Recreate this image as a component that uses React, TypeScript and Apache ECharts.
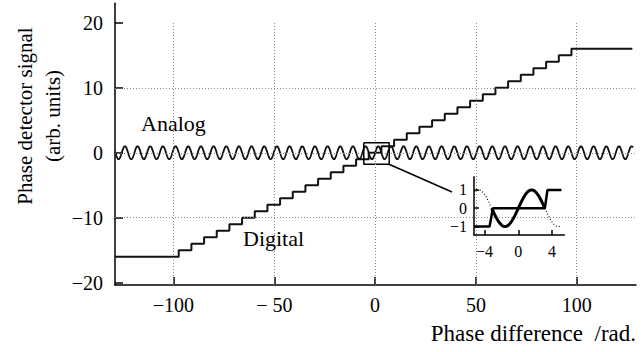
import React, { useEffect, useRef } from "react";
import * as echarts from "echarts";

const FONT = '"Liberation Serif", "Times New Roman", serif';

// main axes
const X_MIN = -129;
const X_MAX = 129.4;
const Y_MIN = -20.35;
const Y_MAX = 23;
const X_TICKS = [-100, -50, 0, 50, 100];
const Y_TICKS = [-20, -10, 0, 10, 20];
const X_GRID = [-100, -50, 0, 50, 100];
const Y_GRID = [-10, 0, 10];

// analog signal: amplitude and period
const ANALOG_AMPLITUDE = 1;
const ANALOG_PERIOD = 6.283;
const ANALOG_RANGE = [-129, 128];

// digital staircase: edges of each step, and the level between them
const STEP_EDGES = [
  -97.39, -91.11, -84.82, -78.54, -72.26, -65.97, -59.69, -53.41, -47.12, -40.84, -34.56, -28.27, -21.99, -15.71, -9.42, -3.14,
  3.14, 9.42, 15.71, 21.99, 28.27, 34.56, 40.84, 47.12, 53.41, 59.69, 65.97, 72.26, 78.54, 84.82, 91.11, 97.39,
];
const DIGITAL_LEVELS = [
  -16, -15, -14, -13, -12, -11, -10, -9, -8, -7, -6, -5, -4, -3, -2, -1, 0,
  1, 2, 3, 4, 5, 6, 7, 8, 9, 10, 11, 12, 13, 14, 15, 16,
];
const DIGITAL_RANGE = [-129, 127.6];

// magnifier box around origin
const BOX = [[-5.6, 1.55], [7.0, 1.55], [7.0, -1.75], [-5.6, -1.75], [-5.6, 1.55]];

// inset
const INSET_X_MIN = -5.24;
const INSET_X_MAX = 5.44;
const INSET_Y_MIN = -1.46;
const INSET_Y_MAX = 1.72;
const INSET_X_TICKS = [-4, 0, 4];
const INSET_Y_TICKS = [-1, 0, 1];
const INSET_RANGE = [-5.2, 5.1];
const INSET_DIGITAL = [[-5.24, -1], [-3.4, -1], [-3.0, 0], [3.14, 0], [3.45, 1], [5.1, 1]];

function minus(v: number, spaced = false) {
  if (v < 0) return "\u2212" + (spaced ? " " : "") + Math.abs(v);
  return String(v);
}

function sineRange(a: number, b: number, step: number) {
  const pts: number[][] = [];
  for (let x = a; x <= b + 1e-9; x += step) {
    pts.push([x, ANALOG_AMPLITUDE * Math.sin((2 * Math.PI * x) / ANALOG_PERIOD)]);
  }
  return pts;
}

function buildDigital() {
  const pts: number[][] = [];
  let start = DIGITAL_RANGE[0];
  DIGITAL_LEVELS.forEach((lvl, i) => {
    const end = i < STEP_EDGES.length ? STEP_EDGES[i] : DIGITAL_RANGE[1];
    pts.push([start, lvl]);
    pts.push([end, lvl]);
    start = end;
  });
  return pts;
}

export default function App() {
  const ref = useRef<HTMLDivElement>(null);
  useEffect(() => {
    if (!ref.current) return;
    const chart = echarts.init(ref.current, undefined, { renderer: "svg" });

    const gridLine = { color: "#888", width: 1, type: [1, 2] as any };
    const gridData: any[] = [];
    X_GRID.forEach((x) => gridData.push([{ coord: [x, Y_MIN] }, { coord: [x, 20] }]));
    Y_GRID.forEach((y) => gridData.push([{ coord: [X_MIN, y] }, { coord: [X_MAX, y] }]));

    const axisLabelMain = { fontFamily: FONT, fontSize: 20, color: "#000" };
    const textFont = (size: number) => `${size}px ${FONT}`;

    chart.setOption({
      animation: false,
      backgroundColor: "#fff",
      grid: [
        { left: 115, right: 7, top: 3.3, bottom: 67 },
        { left: 474, right: 78.7, top: 176.7, bottom: 117, z: 10 },
      ],
      xAxis: [
        {
          type: "value",
          gridIndex: 0,
          min: X_MIN,
          max: X_MAX,
          axisLine: { show: true, onZero: false, lineStyle: { color: "#000", width: 1.5 } },
          axisTick: { show: true, inside: true, length: 8, lineStyle: { color: "#000", width: 1.5 }, customValues: X_TICKS },
          axisLabel: { ...axisLabelMain, margin: 10, customValues: X_TICKS, formatter: (v: number) => minus(v, v === -50) },
          splitLine: { show: false },
        },
        {
          type: "value",
          gridIndex: 1,
          min: INSET_X_MIN,
          max: INSET_X_MAX,
          z: 10,
          axisLine: { show: true, onZero: false, lineStyle: { color: "#000", width: 1.5 } },
          axisTick: { show: true, inside: true, length: 5, lineStyle: { color: "#000", width: 1.5 }, customValues: INSET_X_TICKS },
          axisLabel: { fontFamily: FONT, fontSize: 16, color: "#000", margin: 8, customValues: INSET_X_TICKS, formatter: (v: number) => minus(v) },
          splitLine: { show: false },
        },
      ],
      yAxis: [
        {
          type: "value",
          gridIndex: 0,
          min: Y_MIN,
          max: Y_MAX,
          axisLine: { show: true, onZero: false, lineStyle: { color: "#000", width: 1.5 } },
          axisTick: { show: true, inside: true, length: 8, lineStyle: { color: "#000", width: 1.5 }, customValues: Y_TICKS },
          axisLabel: { ...axisLabelMain, margin: 12, customValues: Y_TICKS, formatter: (v: number) => minus(v) },
          splitLine: { show: false },
        },
        {
          type: "value",
          gridIndex: 1,
          min: INSET_Y_MIN,
          max: INSET_Y_MAX,
          z: 10,
          axisLine: { show: true, onZero: false, lineStyle: { color: "#000", width: 1.5 } },
          axisTick: { show: true, inside: true, length: 5, lineStyle: { color: "#000", width: 1.5 }, customValues: INSET_Y_TICKS },
          axisLabel: { fontFamily: FONT, fontSize: 16, color: "#000", margin: 7, customValues: INSET_Y_TICKS, formatter: (v: number) => minus(v) },
          splitLine: { show: false },
        },
      ],
      graphic: [
        { type: "rect", z: 5, shape: { x: 402, y: 165, width: 185, height: 110 }, style: { fill: "#fff" } },
        { type: "line", z: 6, shape: { x1: 389, y1: 164.3, x2: 452, y2: 192 }, style: { stroke: "#000", lineWidth: 1.5 } },
        { type: "text", z: 6, x: 141, y: 123, style: { text: "Analog", font: textFont(22), fill: "#000", textAlign: "left", textVerticalAlign: "middle" } },
        { type: "text", z: 6, x: 243, y: 238, style: { text: "Digital", font: textFont(22), fill: "#000", textAlign: "left", textVerticalAlign: "middle" } },
        { type: "text", z: 6, x: 636, y: 333, style: { text: "Phase difference  /rad.", font: textFont(23), fill: "#000", textAlign: "right", textVerticalAlign: "middle" } },
        { type: "text", z: 6, x: 25, y: 116, rotation: Math.PI / 2, style: { text: "Phase detector signal", font: textFont(21), fill: "#000", textAlign: "center", textVerticalAlign: "middle" } },
        { type: "text", z: 6, x: 53, y: 116, rotation: Math.PI / 2, style: { text: "(arb. units)", font: textFont(21), fill: "#000", textAlign: "center", textVerticalAlign: "middle" } },
      ],
      series: [
        {
          type: "line",
          xAxisIndex: 0,
          yAxisIndex: 0,
          z: 1,
          data: [[0, 0]],
          showSymbol: false,
          lineStyle: { opacity: 0 },
          silent: true,
          markLine: { silent: true, symbol: ["none", "none"], label: { show: false }, lineStyle: gridLine, data: gridData },
        },
        {
          name: "Analog",
          type: "line",
          xAxisIndex: 0,
          yAxisIndex: 0,
          z: 2,
          data: sineRange(ANALOG_RANGE[0], ANALOG_RANGE[1], 0.05),
          showSymbol: false,
          lineStyle: { color: "#111", width: 1.8 },
        },
        {
          name: "Digital",
          type: "line",
          xAxisIndex: 0,
          yAxisIndex: 0,
          z: 3,
          data: buildDigital(),
          showSymbol: false,
          lineStyle: { color: "#111", width: 2 },
        },
        {
          name: "Box",
          type: "line",
          xAxisIndex: 0,
          yAxisIndex: 0,
          z: 4,
          data: BOX,
          showSymbol: false,
          lineStyle: { color: "#000", width: 1.5 },
        },
        {
          type: "line",
          xAxisIndex: 1,
          yAxisIndex: 1,
          z: 10,
          data: sineRange(INSET_RANGE[0], -Math.PI, 0.03),
          showSymbol: false,
          lineStyle: { color: "#000", width: 1.2, type: [1, 2] },
        },
        {
          type: "line",
          xAxisIndex: 1,
          yAxisIndex: 1,
          z: 10,
          data: sineRange(Math.PI, INSET_RANGE[1], 0.03),
          showSymbol: false,
          lineStyle: { color: "#000", width: 1.2, type: [1, 2] },
        },
        {
          type: "line",
          xAxisIndex: 1,
          yAxisIndex: 1,
          z: 11,
          data: INSET_DIGITAL,
          showSymbol: false,
          lineStyle: { color: "#000", width: 2.5 },
        },
        {
          type: "line",
          xAxisIndex: 1,
          yAxisIndex: 1,
          z: 12,
          data: sineRange(-Math.PI, Math.PI, 0.03),
          showSymbol: false,
          lineStyle: { color: "#000", width: 3 },
        },
      ],
    });
    return () => chart.dispose();
  }, []);
  return <div ref={ref} style={{ width: 643, height: 352, position: "fixed", left: 0, top: 0 }} />;
}
